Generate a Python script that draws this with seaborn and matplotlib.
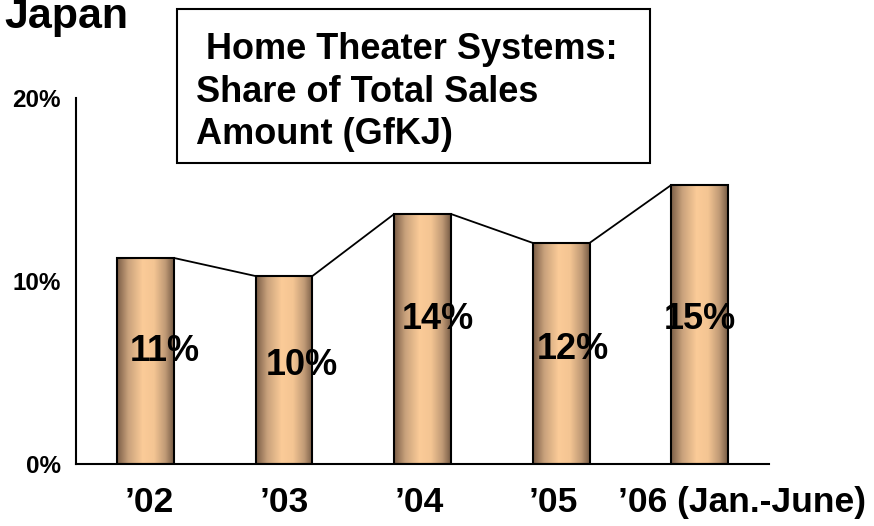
import numpy as np
import pandas as pd
import matplotlib
matplotlib.use('Agg')
import matplotlib.pyplot as plt
from matplotlib.colors import LinearSegmentedColormap
from matplotlib.patches import Rectangle
from matplotlib.transforms import ScaledTranslation
import seaborn as sns

# data
years = ['\u201902', '\u201903', '\u201904', '\u201905', '\u201906 (Jan.-June)']
share = [11.26, 10.27, 13.66, 12.08, 15.25]
share_labels = ['11%', '10%', '14%', '12%', '15%']
y_ticks = [0, 10, 20]
y_tick_labels = ['0%', '10%', '20%']

sns.set_style('white')
plt.rcParams['font.family'] = ['Liberation Sans', 'DejaVu Sans']
plt.rcParams['font.weight'] = 'bold'
plt.rcParams['text.color'] = 'black'
plt.rcParams['xtick.color'] = 'black'
plt.rcParams['ytick.color'] = 'black'
plt.rcParams['axes.labelcolor'] = 'black'

df = pd.DataFrame({'year': years, 'share': share})

fig = plt.figure(figsize=(8.74, 5.26), dpi=100)
ax = fig.add_axes([0.087, 0.1179, 0.793, 0.6958])

sns.barplot(data=df, x='year', y='share', width=0.41, color='#f7c896',
            edgecolor='black', linewidth=1.5, ax=ax, zorder=2)

# cylinder-like shading on each bar
cyl = LinearSegmentedColormap.from_list(
    'cyl', [(0.0, '#7a5d46'), (0.2, '#c9a27c'), (0.45, '#fbcb98'),
            (0.65, '#f4c593'), (0.85, '#c09a76'), (1.0, '#765b45')])
grad = np.linspace(0, 1, 256).reshape(1, -1)
bars = list(ax.patches)
for p in bars:
    x0, y0 = p.get_x(), p.get_y()
    w, h = p.get_width(), p.get_height()
    im = ax.imshow(grad, extent=[x0, x0 + w, y0, y0 + h], aspect='auto',
                   cmap=cyl, zorder=2.5, interpolation='bilinear')
    im.set_clip_path(p)
    p.set_facecolor('none')
    p.set_zorder(3)

# series lines joining the bar tops
for a, b in zip(bars[:-1], bars[1:]):
    ax.plot([a.get_x() + a.get_width(), b.get_x()],
            [a.get_height(), b.get_height()], color='black', lw=1.3, zorder=3)

# value labels
label_pos = [(0.142, 6.17), (1.131, 5.36), (2.112, 7.87), (3.086, 6.23), (4.002, 7.87)]
for txt, (lx, ly) in zip(share_labels, label_pos):
    ax.text(lx, ly, txt, ha='center', va='center', fontsize=26,
            fontweight='bold', color='black', zorder=4)

ax.set_xlim(-0.5, 4.5)
ax.set_ylim(0, 20)
ax.set_xlabel('')
ax.set_ylabel('')
ax.set_yticks(y_ticks, y_tick_labels)
ax.set_xticks(np.arange(-0.5, 5, 1), minor=True)
ax.tick_params(axis='y', direction='in', length=5, width=1.3, pad=11,
               labelsize=17.5, color='black', labelcolor='black')
ax.tick_params(axis='x', which='major', length=0, pad=16, labelsize=25.5,
               labelcolor='black')
ax.tick_params(axis='x', which='minor', direction='in', length=5, width=1.3,
               color='black')
for lbl in ax.get_yticklabels() + ax.get_xticklabels():
    lbl.set_fontweight('bold')

dxs = [4, 0, -3, -8, 42]
for lbl, dx in zip(ax.get_xticklabels(), dxs):
    lbl.set_transform(lbl.get_transform() + ScaledTranslation(dx / 100, 0, fig.dpi_scale_trans))

sns.despine(ax=ax)
for s in ['left', 'bottom']:
    ax.spines[s].set_color('black')
    ax.spines[s].set_linewidth(1.5)

# title and the boxed caption
W, H = 874, 526
fig.text(128 / W, 1 - 28 / H, 'Japan', ha='right', va='baseline',
         fontsize=31, fontweight='bold')
fig.add_artist(Rectangle((177 / W, 1 - 163 / H), (650 - 177) / W, (163 - 9) / H,
                         transform=fig.transFigure, facecolor='white',
                         edgecolor='black', linewidth=1.5))
box_lines = [' Home Theater Systems:', 'Share of Total Sales', 'Amount (GfKJ)']
for i, line in enumerate(box_lines):
    fig.text(196 / W, 1 - (59 + 42.5 * i) / H, line, ha='left', va='baseline',
             fontsize=26, fontweight='bold')

fig.savefig('out.png', dpi=100)
